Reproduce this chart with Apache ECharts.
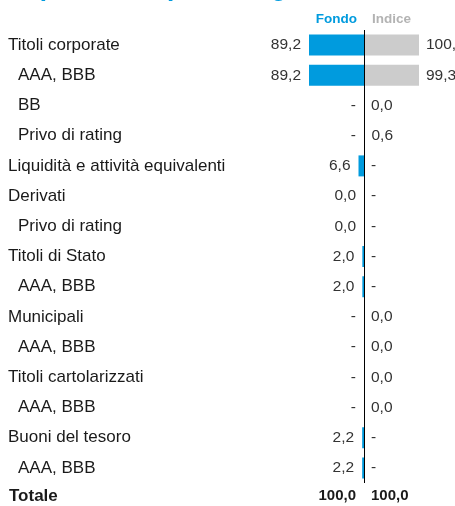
<!DOCTYPE html>
<html>
<head>
<meta charset="utf-8">
<script src="https://cdn.jsdelivr.net/npm/echarts@6/dist/echarts.min.js"></script>
<style>
  html, body { margin: 0; padding: 0; background: #fff; }
  #chart { width: 455px; height: 506px; }
</style>
</head>
<body>
<div id="chart"></div>
<script>
// categorie (livello 0 = voce principale, 1 = sotto-voce)
const categories = ['Titoli corporate', 'AAA, BBB', 'BB', 'Privo di rating', 'Liquidità e attività equivalenti',
  'Derivati', 'Privo di rating', 'Titoli di Stato', 'AAA, BBB', 'Municipali', 'AAA, BBB',
  'Titoli cartolarizzati', 'AAA, BBB', 'Buoni del tesoro', 'AAA, BBB']
const rowLevel = [0, 1, 1, 1, 0, 0, 1, 0, 1, 0, 1, 0, 1, 0, 1]
// null = "-"
const fondo = [89.2, 89.2, null, null, 6.6, 0.0, 0.0, 2.0, 2.0, null, null, null, null, 2.2, 2.2]
const indice = [100.0, 99.3, 0.0, 0.6, null, null, null, null, null, 0.0, 0.0, 0.0, 0.0, null, null]
const totale = { fondo: 100.0, indice: 100.0 }

const BLUE = '#009bde'
const GREY = '#cccccc'
const SANS = '"Liberation Sans", Arial, sans-serif'

const fmt = v => (v === null ? '-' : v.toFixed(1).replace('.', ','))

const chart = echarts.init(document.getElementById('chart'))

const option = {
  animation: false,
  grid: { left: 309, right: 36, top: 30, bottom: 23 },
  xAxis: { type: 'value', min: -66, max: 66, show: false },
  yAxis: {
    type: 'category',
    inverse: true,
    data: categories,
    axisLine: { show: false },
    axisTick: { show: false },
    axisLabel: {
      align: 'left',
      margin: 301,
      formatter: (v, i) => rowLevel[i] ? '{sub|' + v + '}' : '{main|' + v + '}',
      rich: {
        main: { fontFamily: SANS, fontSize: 17, color: '#1a1a1a' },
        sub: { fontFamily: SANS, fontSize: 17, color: '#1a1a1a', padding: [0, 0, 0, 10] },
      },
    },
  },
  graphic: [
    {
      type: 'text', left: 8, top: -24,
      style: { text: 'Esposizione per rating, %', fill: BLUE, font: 'bold 26px ' + SANS },
    },
    {
      type: 'text', x: 357, y: 19,
      style: { text: 'Fondo', fill: BLUE, font: 'bold 13.5px ' + SANS, align: 'right', verticalAlign: 'middle' },
    },
    {
      type: 'text', x: 372, y: 19,
      style: { text: 'Indice', fill: '#b3b3b3', font: 'bold 13.5px ' + SANS, align: 'left', verticalAlign: 'middle' },
    },
    {
      type: 'text', x: 9, y: 496,
      style: { text: 'Totale', fill: '#1a1a1a', font: 'bold 17px ' + SANS, align: 'left', verticalAlign: 'middle' },
    },
    {
      type: 'text', x: 356, y: 496,
      style: { text: fmt(totale.fondo), fill: '#1a1a1a', font: 'bold 15px ' + SANS, align: 'right', verticalAlign: 'middle' },
    },
    {
      type: 'text', x: 371, y: 496,
      style: { text: fmt(totale.indice), fill: '#1a1a1a', font: 'bold 15px ' + SANS, align: 'left', verticalAlign: 'middle' },
    },
  ],
  series: [
    {
      name: 'Fondo',
      type: 'bar',
      barWidth: 21,
      barGap: '-100%',
      clip: true,
      itemStyle: { color: BLUE },
      data: fondo.map(v => -(v || 0)),
      label: {
        show: true,
        position: 'left',
        distance: 8,
        fontFamily: SANS,
        fontSize: 15.5,
        color: '#333',
        formatter: p => fmt(fondo[p.dataIndex]),
      },
      markLine: {
        silent: true,
        symbol: 'none',
        label: { show: false },
        lineStyle: { color: '#000', width: 1, type: 'solid' },
        data: [{ xAxis: 0 }],
      },
    },
    {
      name: 'Indice',
      type: 'bar',
      barWidth: 21,
      clip: true,
      itemStyle: { color: GREY },
      data: indice.map(v => v || 0),
      label: {
        show: true,
        position: 'right',
        distance: 7,
        fontFamily: SANS,
        fontSize: 15.5,
        color: '#333',
        formatter: p => fmt(indice[p.dataIndex]),
      },
    },
  ],
}

chart.setOption(option)
</script>
</body>
</html>
